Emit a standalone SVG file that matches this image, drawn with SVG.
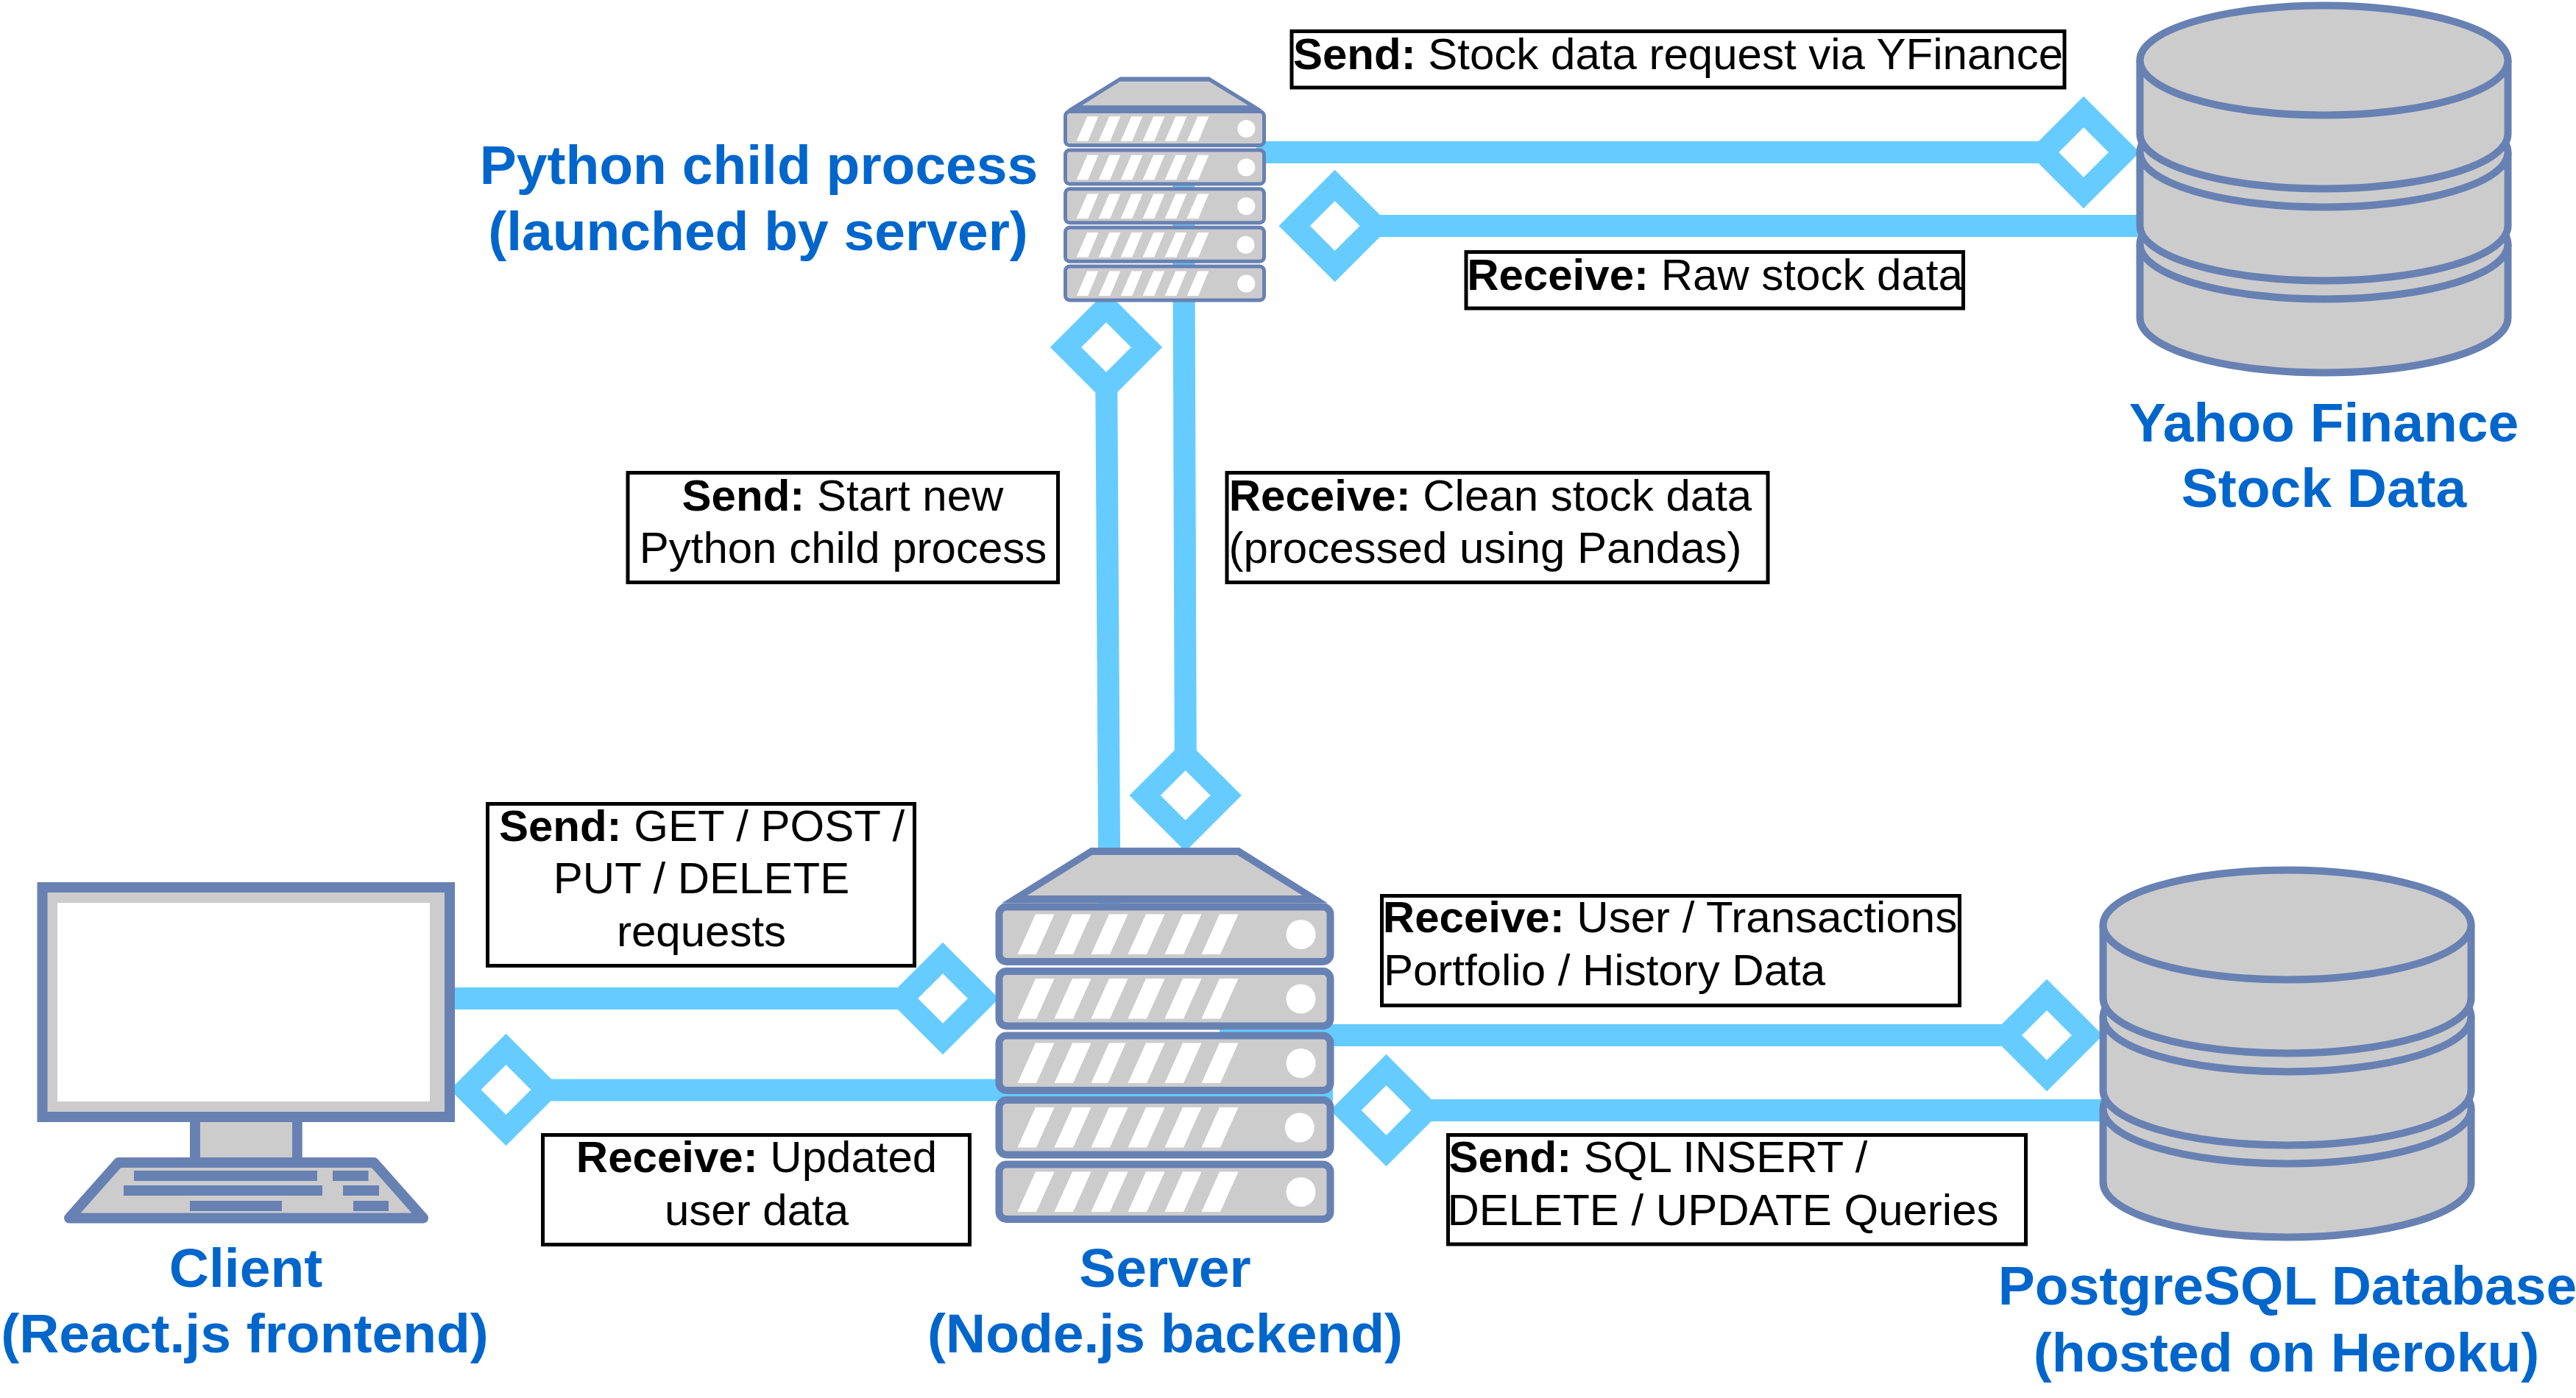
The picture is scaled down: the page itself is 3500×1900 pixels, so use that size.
<svg xmlns="http://www.w3.org/2000/svg" xmlns:xlink="http://www.w3.org/1999/xlink" width="3500" height="1900" viewBox="0 0 3500 1900">
<style>
text{font-family:"Liberation Sans",Arial,sans-serif}
.t{font-size:60px;fill:#000;text-anchor:middle}
.b{font-weight:700}
.n{font-size:75px;font-weight:700;fill:#0066CC;text-anchor:middle}
.box{fill:#fff;stroke:#000;stroke-width:5}
.line{fill:none;stroke:#66CCFF;stroke-width:30}
.dia{fill:#fff;stroke:#66CCFF;stroke-width:30;stroke-linejoin:miter}
.blue{fill:#6881B3}
.gray{fill:#CCCCCC}
.white{fill:#fff}
.rackB{fill:#CCCCCC;stroke:#6881B3;stroke-width:10}
.rackS{fill:#CCCCCC;stroke:#6881B3;stroke-width:5}
.cyl{fill:#CCCCCC;stroke:#6881B3;stroke-width:10}
</style>
<defs>
<polygon id="d" class="dia" points="0,-55 55,0 0,55 -55,0"/>
<g id="rb">
<rect class="rackB" x="0" y="0" width="450" height="74.5" rx="10"/>
<path class="white" d="M25,64.5H50.500L75,10H49.500ZM75,64.500H100.500L125,10H99.500ZM125,64.500H150.500L175,10H149.500ZM175,64.500H200.500L225,10H199.500ZM225,64.500H250.500L275,10H249.500ZM275,64.500H300.500L325,10H299.500Z"/>
</g>
<g id="rs">
<rect class="rackS" x="0" y="0" width="270" height="46" rx="6"/>
<path class="white" d="M15.200,40.200H30.800L44.800,6.700H29.800ZM45.200,40.200H60.800L74.800,6.700H59.800ZM75.200,40.200H90.800L104.800,6.700H89.800ZM105.200,40.200H120.800L134.800,6.700H119.800ZM135.200,40.200H150.800L164.800,6.700H149.800ZM165.200,40.200H180.800L194.800,6.700H179.800Z"/>
</g>
<g id="sec">
<path class="cyl" d="M-250,0V100A250,74.500 0 0 0 250,100V0"/>
<ellipse class="cyl" cx="0" cy="0" rx="250" ry="74.500"/>
</g>
</defs>
<rect width="3500" height="1900" fill="#fff"/>
<g id="connectors">
<line class="line" x1="1707" y1="207" x2="2831" y2="207"/>
<line class="line" x1="1814" y1="307" x2="2910" y2="307"/>
<line class="line" x1="1503" y1="472" x2="1507.500" y2="1228"/>
<line class="line" x1="1608" y1="222" x2="1611" y2="1082"/>
<line class="line" x1="618" y1="1357" x2="1281" y2="1357"/>
<line class="line" x1="687" y1="1481.500" x2="1811" y2="1481.500"/>
<line class="line" x1="1657" y1="1407" x2="2781" y2="1407"/>
<line class="line" x1="1884" y1="1509" x2="2860" y2="1509"/>
<use xlink:href="#d" href="#d" x="2831" y="207"/>
<use xlink:href="#d" href="#d" x="1813.700" y="307"/>
<use xlink:href="#d" href="#d" x="1503" y="472"/>
<use xlink:href="#d" href="#d" x="1610.700" y="1081"/>
<use xlink:href="#d" href="#d" x="1281" y="1357"/>
<use xlink:href="#d" href="#d" x="687.500" y="1481"/>
<use xlink:href="#d" href="#d" x="2781" y="1407"/>
<use xlink:href="#d" href="#d" x="1883.500" y="1509"/>
</g>
<g id="python-server">
<polygon class="blue" points="1522,104.500 1643,104.500 1715,149 1450,149"/>
<polygon class="gray" points="1470,143.300 1521.700,110.700 1642.700,110.700 1696,143.300"/>
<use href="#rs" x="1447.500" y="151.500"/>
<use href="#rs" x="1447.500" y="204.100"/>
<use href="#rs" x="1447.500" y="256.700"/>
<use href="#rs" x="1447.500" y="309.300"/>
<use href="#rs" x="1447.500" y="361.900"/>
<circle class="white" cx="1693.300" cy="175" r="12"/>
<circle class="white" cx="1693.300" cy="227.600" r="12"/>
<circle class="white" cx="1693.300" cy="280.200" r="12"/>
<circle class="white" cx="1692.500" cy="332.800" r="12"/>
<circle class="white" cx="1693.300" cy="385.400" r="12"/>
<text class="n" x="1031" y="250">Python child process</text>
<text class="n" x="1030" y="340">(launched by server)</text>
</g>
<g id="node-server">
<polygon class="blue" points="1482,1152 1684,1152 1804,1227.500 1361,1227.500"/>
<polygon class="gray" points="1395.700,1217 1484,1162 1681,1162 1769.600,1217"/>
<use href="#rb" x="1357.500" y="1232.500"/>
<use href="#rb" x="1357.500" y="1320"/>
<use href="#rb" x="1357.500" y="1407.500"/>
<use href="#rb" x="1357.500" y="1495"/>
<use href="#rb" x="1357.500" y="1582.500"/>
<polygon class="gray" points="1505.400,1472 1508.500,1472 1533,1417.500 1529.600,1417.500"/>
<circle class="white" cx="1767.500" cy="1270" r="20"/>
<circle class="white" cx="1767.500" cy="1357.500" r="20"/>
<circle class="white" cx="1767.500" cy="1445" r="20"/>
<circle class="white" cx="1765.800" cy="1532.500" r="20"/>
<circle class="white" cx="1767.500" cy="1620" r="20"/>
<text class="n" x="1583" y="1748.500">Server</text>
<text class="n" x="1583" y="1838">(Node.js backend)</text>
</g>
<g id="client">
<rect class="blue" x="50.500" y="1199" width="567.500" height="326"/>
<rect class="gray" x="64.500" y="1213" width="539.500" height="298"/>
<rect class="white" x="78" y="1227" width="506" height="270"/>
<rect class="blue" x="258" y="1525" width="152.700" height="50"/>
<rect class="gray" x="272" y="1525" width="125" height="48"/>
<polygon class="gray" points="161,1580 508,1580 575,1655.500 94,1655.500" stroke="#6881B3" stroke-width="14" stroke-linejoin="round"/>
<path class="blue" d="M182,1591H431V1605H182ZM452,1591H500.500V1605H452ZM168,1611H438V1625H168ZM466,1611H515V1625H466ZM258,1632H383V1646H258ZM480,1632H528V1646H480Z"/>
<text class="n" x="334" y="1748.500">Client</text>
<text class="n" x="332.500" y="1838">(React.js frontend)</text>
</g>
<g id="yahoo-finance">
<use href="#sec" x="3157.500" y="332"/>
<use href="#sec" x="3157.500" y="207"/>
<use href="#sec" x="3157.500" y="82"/>
<text class="n" x="3157.500" y="600">Yahoo Finance</text>
<text class="n" x="3157.500" y="689">Stock Data</text>
</g>
<g id="postgresql-database">
<use href="#sec" x="3107.500" y="1507"/>
<use href="#sec" x="3107.500" y="1382"/>
<use href="#sec" x="3107.500" y="1257"/>
<text class="n" x="3108" y="1773">PostgreSQL Database</text>
<text class="n" x="3106.500" y="1864">(hosted on Heroku)</text>
</g>
<g id="label-stock-request">
<rect class="box" x="1755" y="42.500" width="1050" height="76.500"/>
<text class="t" x="2280" y="94"><tspan class="b">Send:</tspan> Stock data request via YFinance</text>
</g>
<g id="label-raw-data">
<rect class="box" x="1992" y="342.500" width="675.500" height="76.500"/>
<text class="t" x="2330" y="394"><tspan class="b">Receive:</tspan> Raw stock data</text>
</g>
<g id="label-start-child">
<rect class="box" x="853" y="642.500" width="584.500" height="149"/>
<text class="t" x="1145" y="694"><tspan class="b">Send:</tspan> Start new</text>
<text class="t" x="1145.500" y="765">Python child process</text>
</g>
<g id="label-clean-data">
<rect class="box" x="1667" y="642.500" width="735" height="149"/>
<text class="t" x="2025" y="694"><tspan class="b">Receive:</tspan> Clean stock data</text>
<text class="t" x="2018" y="765">(processed using Pandas)</text>
</g>
<g id="label-http-requests">
<rect class="box" x="662.500" y="1092.500" width="580" height="220"/>
<text class="t" x="953.500" y="1143"><tspan class="b">Send:</tspan> GET / POST /</text>
<text class="t" x="953" y="1214">PUT / DELETE</text>
<text class="t" x="953" y="1286">requests</text>
</g>
<g id="label-updated-data">
<rect class="box" x="737.500" y="1542.500" width="580" height="149"/>
<text class="t" x="1028" y="1593"><tspan class="b">Receive:</tspan> Updated</text>
<text class="t" x="1028" y="1665">user data</text>
</g>
<g id="label-user-data">
<rect class="box" x="1877.500" y="1217.500" width="785" height="149"/>
<text class="t" x="2269" y="1267"><tspan class="b">Receive:</tspan> User / Transactions</text>
<text class="t" x="2180" y="1339">Portfolio / History Data</text>
</g>
<g id="label-sql">
<rect class="box" x="1967.500" y="1542.500" width="785" height="148.500"/>
<text class="t" x="2253" y="1592.500"><tspan class="b">Send:</tspan> SQL INSERT /</text>
<text class="t" x="2341" y="1664.500">DELETE / UPDATE Queries</text>
</g>
</svg>
